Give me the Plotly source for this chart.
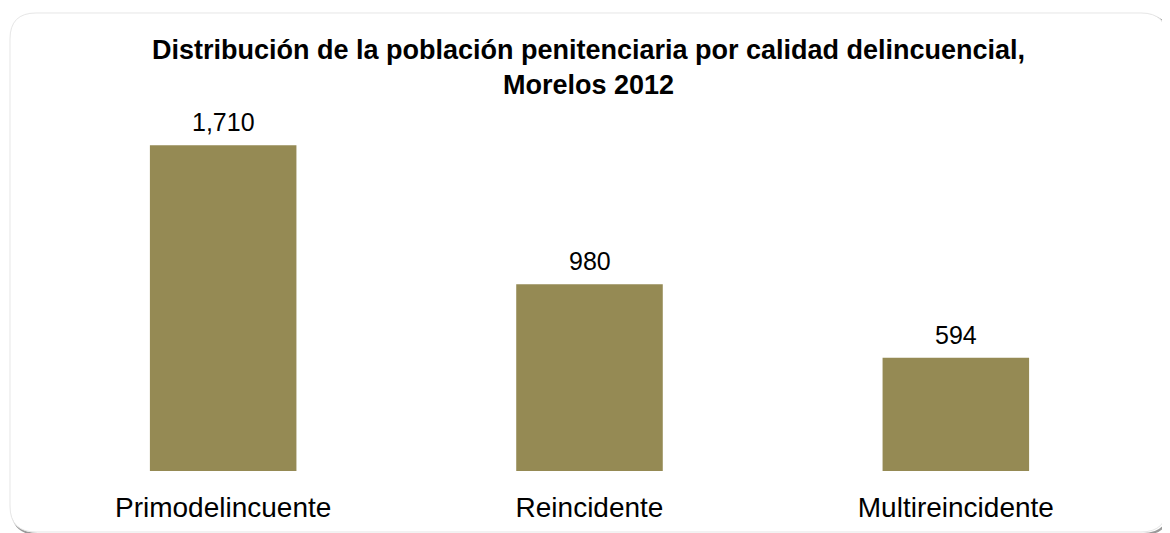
import plotly.graph_objects as go

categories = ["Primodelincuente", "Reincidente", "Multireincidente"]
values = [1710, 980, 594]
title_text = "<b>Distribución de la población penitenciaria por calidad delincuencial,<br>Morelos 2012</b>"

# page has an 8px body margin, so figure coords = reference coords - 8
W, H = 1162, 525
ML, MR, MT, MB = 32, 31, 82, 62
PW, PH = W - ML - MR, H - MT - MB

def px2paper(x, y):
    return (x - ML) / PW, (H - MB - y) / PH

def rounded_path(x0, y0, x1, y1, r):
    pts = [
        ("M", [(x0 + r, y0)]),
        ("L", [(x1 - r, y0)]),
        ("Q", [(x1, y0), (x1, y0 + r)]),
        ("L", [(x1, y1 - r)]),
        ("Q", [(x1, y1), (x1 - r, y1)]),
        ("L", [(x0 + r, y1)]),
        ("Q", [(x0, y1), (x0, y1 - r)]),
        ("L", [(x0, y0 + r)]),
        ("Q", [(x0, y0), (x0 + r, y0)]),
    ]
    s = ""
    for cmd, ps in pts:
        s += cmd + " " + " ".join("%.5f,%.5f" % px2paper(*p) for p in ps) + " "
    return s + "Z"

fig = go.Figure()
fig.add_trace(go.Bar(
    x=categories, y=values,
    marker=dict(color="#958A54", line=dict(width=0)),
    hovertemplate="%{x}: %{y:,}<extra></extra>",
))

annotations = [
    dict(x=c, y=v, xref="x", yref="y", text=f"{v:,}", showarrow=False,
         yanchor="bottom", yshift=7,
         font=dict(size=25, color="#000000", family="Liberation Sans, Arial"))
    for c, v in zip(categories, values)
]

fig.update_layout(
    width=W, height=H,
    margin=dict(l=ML, r=MR, t=MT, b=MB, autoexpand=False),
    paper_bgcolor="rgba(0,0,0,0)", plot_bgcolor="rgba(0,0,0,0)",
    bargap=0.6,
    showlegend=False,
    annotations=annotations,
    title=dict(text=title_text, x=580.5 / W, xanchor="center", y=1 - 51 / H, yanchor="middle",
               font=dict(size=27, color="#000000", family="Liberation Sans, Arial")),
    xaxis=dict(showline=False, showgrid=False, zeroline=False, ticks="outside", ticklen=11,
               tickcolor="rgba(0,0,0,0)", automargin=False,
               tickfont=dict(size=28, color="#000000", family="Liberation Sans, Arial")),
    yaxis=dict(range=[0, 2000], visible=False, showgrid=False, zeroline=False, automargin=False),
    shapes=[
        dict(type="path", xref="paper", yref="paper",
             path=rounded_path(4, 7, 1161, 526, 26),
             line=dict(color="#9a9a9a", width=2), fillcolor="rgba(0,0,0,0)", layer="below"),
        dict(type="path", xref="paper", yref="paper",
             path=rounded_path(2, 5, 1159, 524, 26),
             line=dict(color="#e6e6e6", width=1), fillcolor="white", layer="below"),
    ],
)

fig.write_html("out.html")
